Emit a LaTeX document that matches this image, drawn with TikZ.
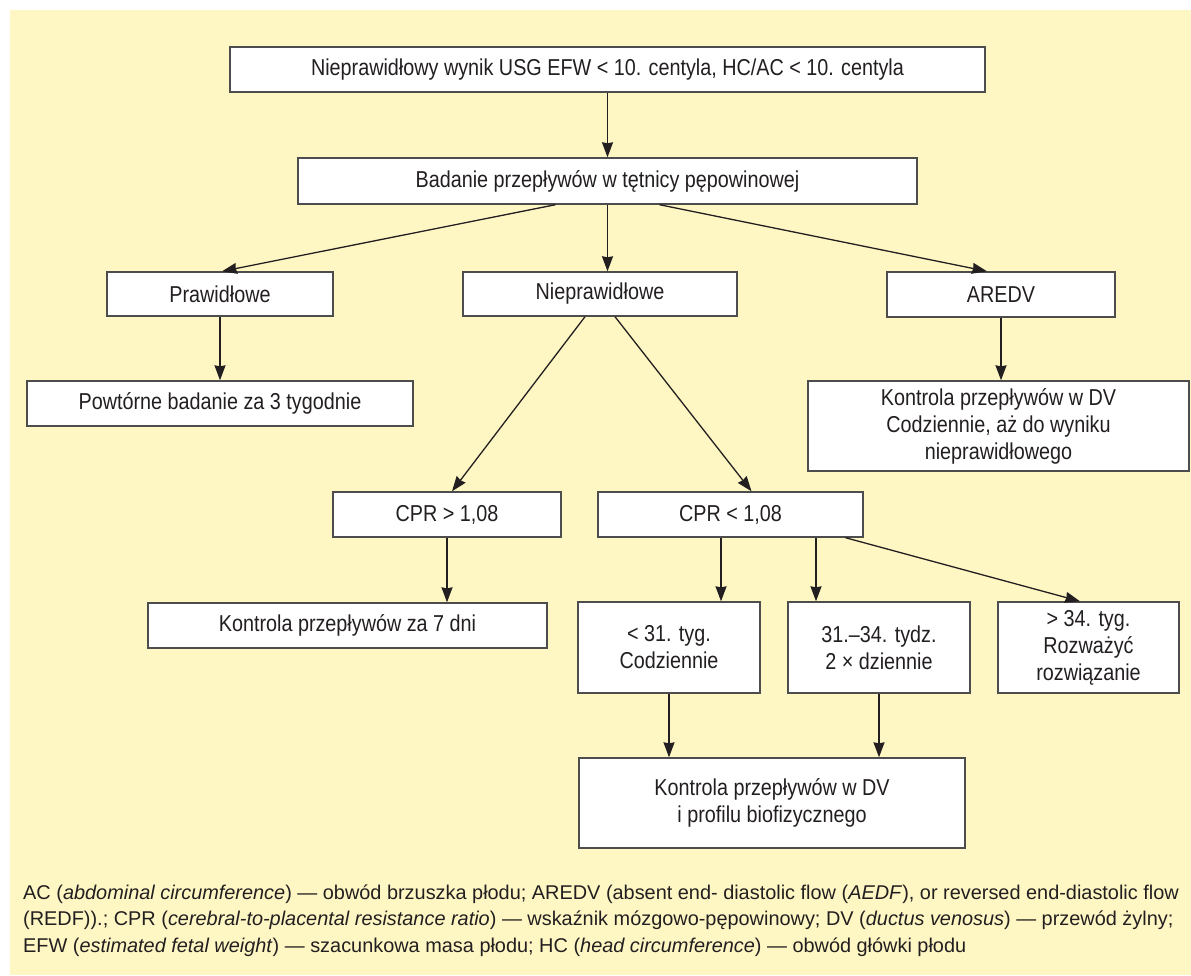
\documentclass[tikz,border=0pt]{standalone}
\usepackage{fontspec}
\setmainfont{Liberation Sans}[FakeStretch=0.86]
\newfontfamily\legendfont{Liberation Sans}
\usetikzlibrary{arrows.meta}

\definecolor{bgyellow}{HTML}{FEF7C4}
\definecolor{inkgray}{HTML}{231F20}
\definecolor{framegray}{HTML}{4D4D4D}

\begin{document}
\begin{tikzpicture}[x=1pt, y=-1pt,
  box/.style={draw=framegray, line width=1.4pt, fill=white, text=inkgray,
    font=\fontsize{23}{27}\selectfont, align=center, inner sep=0pt},
  arr/.style={-{Stealth[length=15pt, width=11pt, inset=1pt]}, line width=1.3pt, draw=inkgray}]

  % Page and background
  \useasboundingbox (0,0) rectangle (1191,975);
  \fill[bgyellow] (10,10) rectangle (1191,975);

  % First two levels
  \node[box, minimum width=755pt, minimum height=45pt] (usg) at (607.5,69.5)
    {Nieprawidłowy wynik USG EFW < 10. centyla, HC/AC < 10. centyla};
  \node[box, minimum width=619pt, minimum height=46pt] (badanie) at (607.5,181)
    {Badanie przepływów w tętnicy pępowinowej};

  % Results of the umbilical artery test
  \node[box, minimum width=226pt, minimum height=44pt] (prawid) at (220,294) {Prawidłowe};
  \node[box, minimum width=274pt, minimum height=44pt] (nieprawid) at (600,294) {Nieprawidłowe};
  \node[box, minimum width=228pt, minimum height=45pt] (aredv) at (1001,294.5) {AREDV};

  \node[box, minimum width=386pt, minimum height=45pt] (powtorne) at (220,403.5)
    {Powtórne badanie za 3 tygodnie};
  \node[box, minimum width=381pt, minimum height=90pt] (kontroladv) at (998.5,426)
    {Kontrola przepływów w DV\\Codziennie, aż do wyniku\\nieprawidłowego};

  % CPR branch
  \node[box, minimum width=228pt, minimum height=45pt] (cprwyzej) at (447,514.5) {CPR > 1,08};
  \node[box, minimum width=265pt, minimum height=45pt] (cprnizej) at (730.5,514.5) {CPR < 1,08};

  \node[box, minimum width=399pt, minimum height=45pt] (siedem) at (347.5,625.5)
    {Kontrola przepływów za 7 dni};
  \node[box, minimum width=182pt, minimum height=91pt] (tyg31) at (669,647.5)
    {< 31. tyg.\\Codziennie};
  \node[box, minimum width=182pt, minimum height=91pt] (tyg34) at (879,647.5)
    {31.–34. tydz.\\2 × dziennie};
  \node[box, minimum width=181pt, minimum height=91pt] (rozwiaz) at (1088.5,647.5)
    {> 34. tyg.\\Rozważyć\\rozwiązanie};

  \node[box, minimum width=386pt, minimum height=90pt] (profil) at (772,803)
    {Kontrola przepływów w DV\\i profilu biofizycznego};

  % Connectors
  \draw[arr] (usg.south -| badanie.north) -- (badanie.north);
  \draw[arr] ([xshift=-52pt]badanie.south) -- ([xshift=2pt]prawid.north);
  \draw[arr] (badanie.south) -- (badanie.south |- nieprawid.north);
  \draw[arr] ([xshift=52pt]badanie.south) -- ([xshift=-14pt]aredv.north);
  \draw[arr] (prawid.south) -- (powtorne.north);
  \draw[arr] (aredv.south) -- (aredv.south |- kontroladv.north);
  \draw[arr] ([xshift=-15pt]nieprawid.south) -- ([xshift=5pt]cprwyzej.north);
  \draw[arr] ([xshift=15pt]nieprawid.south) -- ([xshift=21pt]cprnizej.north);
  \draw[arr] (cprwyzej.south) -- (cprwyzej.south |- siedem.north);
  \draw[arr] ([xshift=-9.5pt]cprnizej.south) -- ([xshift=-9.5pt]cprnizej.south |- tyg31.north);
  \draw[arr] ([xshift=85.5pt]cprnizej.south) -- ([xshift=85.5pt]cprnizej.south |- tyg34.north);
  \draw[arr] ([xshift=115pt]cprnizej.south) -- ([xshift=-8.5pt]rozwiaz.north);
  \draw[arr] (tyg31.south) -- (tyg31.south |- profil.north);
  \draw[arr] (tyg34.south) -- (tyg34.south |- profil.north);

  % Legend
  \node[anchor=north west, inner sep=0pt, align=left, text=inkgray,
    font=\legendfont\fontsize{19.9}{26.6}\selectfont] (legenda) at (23,884.5)
    {AC (\textit{abdominal circumference}) — obwód brzuszka płodu; AREDV (absent end- diastolic flow (\textit{AEDF}), or reversed end-diastolic flow\\
     (REDF)).; CPR (\textit{cerebral-to-placental resistance ratio}) — wskaźnik mózgowo-pępowinowy; DV (\textit{ductus venosus}) — przewód żylny;\\
     EFW (\textit{estimated fetal weight}) — szacunkowa masa płodu; HC (\textit{head circumference}) — obwód główki płodu};

\end{tikzpicture}
\end{document}
